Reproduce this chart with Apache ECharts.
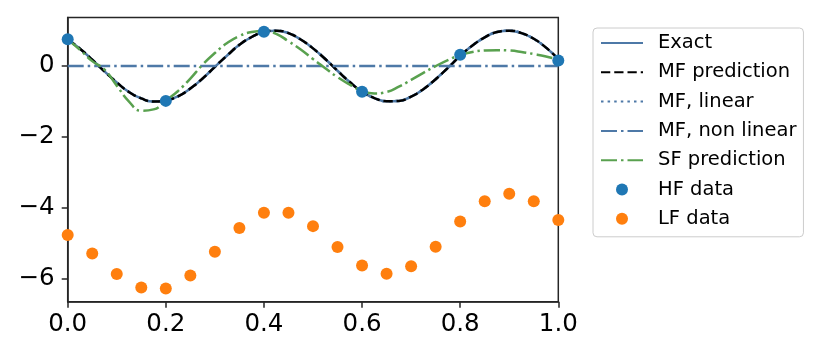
<!DOCTYPE html>
<html>
<head>
<meta charset="utf-8">
<script src="https://cdn.jsdelivr.net/npm/echarts@6/dist/echarts.min.js"></script>
<style>
  html, body { margin: 0; padding: 0; background: #fff; }
  #chart { width: 830px; height: 356px; }
</style>
</head>
<body>
<div id="chart"></div>
<script>
// ---- data ----
const xGrid = [
  0, 0.025, 0.05, 0.075, 0.1, 0.125, 0.15, 0.175, 0.2, 0.225,
  0.25, 0.275, 0.3, 0.325, 0.35, 0.375, 0.4, 0.425, 0.45, 0.475,
  0.5, 0.525, 0.55, 0.575, 0.6, 0.625, 0.65, 0.675, 0.7, 0.725,
  0.75, 0.775, 0.8, 0.825, 0.85, 0.875, 0.9, 0.925, 0.95, 0.975, 1.0
]
// exact function (MF prediction and MF linear lie on top of it)
const exactY = [
  0.75, 0.49, 0.18, -0.15, -0.46, -0.73, -0.91, -1.0, -0.97, -0.85,
  -0.63, -0.35, -0.02, 0.30, 0.60, 0.82, 0.96, 1.0, 0.93, 0.75,
  0.50, 0.20, -0.13, -0.45, -0.72, -0.90, -0.99, -0.98, -0.86, -0.65,
  -0.37, -0.05, 0.29, 0.58, 0.81, 0.96, 1.0, 0.93, 0.77, 0.52, 0.20
]
const mfPredY = exactY.slice()
const mfLinearY = exactY.slice()
// MF non linear part: flat at zero
const mfNonLinX = [0, 0.25, 0.5, 0.75, 1]
const mfNonLinY = [0, 0, 0, 0, 0]
// single fidelity prediction
const sfY = [
  0.75, 0.46, 0.14, -0.10, -0.55, -1.0, -1.26, -1.22, -0.97, -0.70,
  -0.35, 0.04, 0.37, 0.65, 0.85, 0.96, 0.99, 0.91, 0.70, 0.47,
  0.20, -0.06, -0.31, -0.52, -0.70, -0.77, -0.73, -0.58, -0.39, -0.19,
  0.0, 0.17, 0.31, 0.40, 0.44, 0.45, 0.44, 0.40, 0.34, 0.27, 0.18
]
const hfX = [0, 0.2, 0.4, 0.6, 0.8, 1.0]
const hfY = [0.76, -0.98, 0.97, -0.72, 0.32, 0.16]
const lfX = [
  0, 0.05, 0.1, 0.15, 0.2, 0.25, 0.3, 0.35, 0.4, 0.45, 0.5,
  0.55, 0.6, 0.65, 0.7, 0.75, 0.8, 0.85, 0.9, 0.95, 1.0
]
const lfY = [
  -4.76, -5.28, -5.86, -6.24, -6.27, -5.90, -5.23, -4.56, -4.13, -4.13, -4.51,
  -5.10, -5.62, -5.85, -5.64, -5.09, -4.38, -3.81, -3.60, -3.81, -4.34
]
const yTicks = [-6, -4, -2, 0]
const xTicks = [0, 0.2, 0.4, 0.6, 0.8, 1.0]

const pairs = (xs, ys) => xs.map((x, i) => [x, ys[i]])
// matplotlib style minus sign
const minus = (v) => (Number(v) < 0 ? '\u2212' + Math.abs(Number(v)) : String(v))

const BLUE = '#4e79a7'
const GREEN = '#59a14f'
const LW = 2.5
const FONT = '"DejaVu Sans", "Noto Sans", sans-serif'
const DASHDOT = [16, 4, 2.5, 4]

const chart = echarts.init(document.getElementById('chart'), null, { renderer: 'canvas' })

// line entries in the legend: no marker, only the line
const lineItem = (name) => ({ name, itemStyle: { opacity: 0 } })

chart.setOption({
  animation: false,
  backgroundColor: '#fff',
  grid: {
    left: 67.7, right: 271.7, top: 17.5, bottom: 54.3,
    show: true, borderColor: '#262626', borderWidth: 1.5, backgroundColor: 'transparent'
  },
  legend: {
    orient: 'vertical',
    left: 593, top: 28,
    padding: [4, 7, 7, 7],
    itemWidth: 42, itemHeight: 12, itemGap: 7.3,
    backgroundColor: '#fff', borderColor: '#cccccc', borderWidth: 1, borderRadius: 4,
    selectedMode: false,
    textStyle: { fontFamily: FONT, fontSize: 19.5, color: '#000', lineHeight: 22, padding: [0, 0, 0, 10] },
    data: [
      lineItem('Exact'), lineItem('MF prediction'), lineItem('MF, linear'),
      lineItem('MF, non linear'), lineItem('SF prediction'),
      { name: 'HF data' }, { name: 'LF data' }
    ]
  },
  xAxis: {
    type: 'value', min: 0, max: 1, interval: 0.2,
    axisLine: { show: true, onZero: false, lineStyle: { color: '#262626', width: 1.5 } },
    axisTick: { show: true, length: 6, lineStyle: { color: '#262626', width: 1.5 }, customValues: xTicks },
    axisLabel: {
      customValues: xTicks,
      fontFamily: FONT, fontSize: 24.5, color: '#000', margin: 10,
      formatter: (v) => Number(v).toFixed(1)
    },
    splitLine: { show: false }
  },
  yAxis: {
    type: 'value', min: -6.64, max: 1.37,
    axisLine: { show: true, onZero: false, lineStyle: { color: '#262626', width: 1.5 } },
    axisTick: { show: true, length: 6, lineStyle: { color: '#262626', width: 1.5 }, customValues: yTicks },
    axisLabel: {
      customValues: yTicks,
      fontFamily: FONT, fontSize: 24.5, color: '#000', margin: 13,
      formatter: minus
    },
    splitLine: { show: false }
  },
  series: [
    {
      name: 'Exact', type: 'line', symbol: 'none', smooth: true, z: 2,
      data: pairs(xGrid, exactY),
      lineStyle: { color: BLUE, width: LW }, itemStyle: { color: BLUE }
    },
    {
      name: 'MF prediction', type: 'line', symbol: 'none', smooth: true, z: 4,
      data: pairs(xGrid, mfPredY),
      lineStyle: { color: '#000', width: LW, type: [9.25, 4] }, itemStyle: { color: '#000' }
    },
    {
      name: 'MF, linear', type: 'line', symbol: 'none', smooth: true, z: 3,
      data: pairs(xGrid, mfLinearY),
      lineStyle: { color: BLUE, width: LW, type: [2.5, 4.1] }, itemStyle: { color: BLUE }
    },
    {
      name: 'MF, non linear', type: 'line', symbol: 'none', z: 4,
      data: pairs(mfNonLinX, mfNonLinY),
      lineStyle: { color: BLUE, width: LW, type: DASHDOT }, itemStyle: { color: BLUE }
    },
    {
      name: 'SF prediction', type: 'line', symbol: 'none', smooth: true, z: 4,
      data: pairs(xGrid, sfY),
      lineStyle: { color: GREEN, width: LW, type: DASHDOT }, itemStyle: { color: GREEN }
    },
    {
      name: 'HF data', type: 'scatter', symbol: 'circle', symbolSize: 12, z: 5,
      data: pairs(hfX, hfY), itemStyle: { color: '#1f77b4', opacity: 1 }
    },
    {
      name: 'LF data', type: 'scatter', symbol: 'circle', symbolSize: 12, z: 5,
      data: pairs(lfX, lfY), itemStyle: { color: '#ff7f0e', opacity: 1 }
    }
  ]
})
</script>
</body>
</html>
